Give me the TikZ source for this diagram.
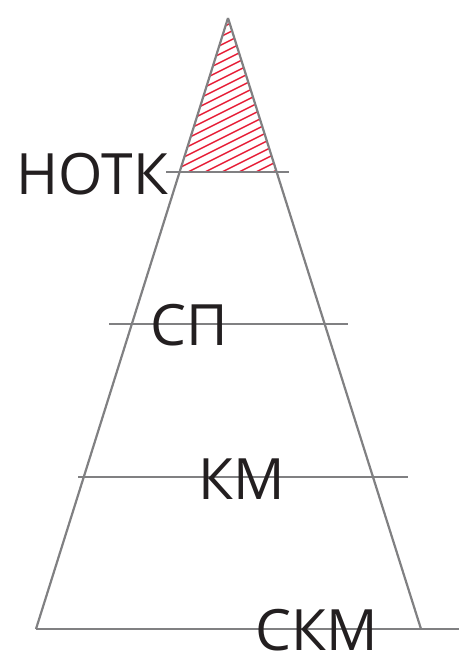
\documentclass[tikz,border=0pt]{standalone}
\usepackage{fontspec}
\setmainfont{Open Sans}
\definecolor{lgray}{RGB}{128,128,130}
\definecolor{hred}{RGB}{230,30,55}
\definecolor{txt}{RGB}{35,31,32}
\begin{document}
\begin{tikzpicture}[x=1pt,y=-1pt,
  edge/.style={draw=lgray,line width=2.2pt},
  hatch/.style={draw=hred,line width=1.4pt},
  lbl/.style={inner sep=0pt,anchor=base,text=txt,font=\fontsize{57}{60}\selectfont}]
\useasboundingbox (0,0) rectangle (459,652);
% hatching
\begin{scope}
\clip (228,18) -- (179.6,172) -- (276.7,172) -- cycle;
\foreach \c in {40,48.5,...,230}{
  \draw[hatch] (150,\c+15) -- (310,\c-65);
}
\end{scope}
% triangle sides
\draw[edge] (228,18) -- (36,629);
\draw[edge] (228,18) -- (421,629);
% horizontal levels
\draw[edge] (166,172) -- (289,172);
\draw[edge] (109,324) -- (348,324);
\draw[edge] (78,477) -- (408,477);
\draw[edge] (36,629) -- (459,629);
% labels
\node[lbl] (notk) at (92.5,194) {НОТК};
\node[lbl] (sp) at (189.5,345) {СП};
\node[lbl] (km) at (241.5,499) {КМ};
\node[lbl] (skm) at (316.5,650) {СКМ};
\end{tikzpicture}
\end{document}
